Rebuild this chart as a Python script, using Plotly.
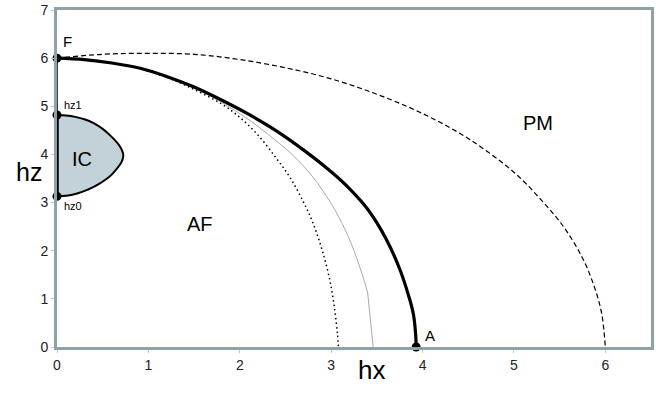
import plotly.graph_objects as go

# Boundary curves (hx, hz)
thick_x = [0, 0.3, 0.6, 0.91, 1.2, 1.5, 1.8, 2.1, 2.4, 2.7, 3.0, 3.2, 3.4, 3.6, 3.75, 3.85, 3.90, 3.925, 3.93]
thick_y = [6.0, 5.97, 5.90, 5.79, 5.62, 5.40, 5.13, 4.83, 4.49, 4.09, 3.64, 3.29, 2.86, 2.25, 1.62, 1.05, 0.68, 0.25, 0.0]

gray_x = [0, 0.3, 0.6, 0.91, 1.2, 1.5, 1.8, 2.1, 2.4, 2.6, 2.8, 3.0, 3.15, 3.25, 3.35, 3.40, 3.46]
gray_y = [6.0, 5.97, 5.90, 5.79, 5.62, 5.39, 5.08, 4.72, 4.28, 3.95, 3.53, 2.98, 2.45, 2.0, 1.45, 1.12, 0.0]

dot_x = [0, 0.3, 0.6, 0.91, 1.2, 1.5, 1.8, 2.0, 2.2, 2.4, 2.55, 2.7, 2.8, 2.9, 2.99, 3.04, 3.07, 3.08]
dot_y = [6.0, 5.97, 5.90, 5.78, 5.60, 5.35, 5.05, 4.77, 4.40, 3.92, 3.52, 3.00, 2.58, 2.02, 1.35, 0.75, 0.25, 0.0]

dash_x = [0, 0.5, 1.0, 1.5, 2.0, 2.5, 3.0, 3.5, 4.0, 4.5, 5.0, 5.3, 5.55, 5.75, 5.88, 5.96, 6.0]
dash_y = [6.0, 6.08, 6.10, 6.08, 5.97, 5.80, 5.57, 5.25, 4.85, 4.33, 3.63, 3.05, 2.48, 1.85, 1.25, 0.7, 0.0]

ic_x = [0, 0.1, 0.2, 0.3, 0.4, 0.5, 0.59, 0.66, 0.70, 0.72, 0.725, 0.715, 0.69, 0.64, 0.57, 0.47, 0.35, 0.22, 0.1, 0]
ic_y = [4.82, 4.81, 4.78, 4.73, 4.65, 4.53, 4.38, 4.24, 4.13, 4.04, 3.97, 3.88, 3.79, 3.67, 3.53, 3.40, 3.28, 3.19, 3.14, 3.13]

pt_x = [0, 0, 0, 3.93]
pt_y = [6.0, 4.82, 3.13, 0.0]

xticks = [0, 1, 2, 3, 4, 5, 6]
yticks = [0, 1, 2, 3, 4, 5, 6, 7]

FONT = "Liberation Sans, Arial, sans-serif"

fig = go.Figure()
fig.add_trace(go.Scatter(x=ic_x, y=ic_y, fill="toself", fillcolor="#c3d1d9",
                         mode="lines", line=dict(color="black", width=2),
                         line_shape="spline", cliponaxis=False))
fig.add_trace(go.Scatter(x=dash_x, y=dash_y, mode="lines", line_shape="spline",
                         line=dict(color="black", width=1.2, dash="5px,3px")))
fig.add_trace(go.Scatter(x=dot_x, y=dot_y, mode="lines", line_shape="spline",
                         line=dict(color="black", width=1.5, dash="1.5px,3px")))
k = gray_x.index(3.40)
fig.add_trace(go.Scatter(x=gray_x[:k + 1], y=gray_y[:k + 1], mode="lines",
                         line_shape="spline", line=dict(color="#aaaaaa", width=1)))
fig.add_trace(go.Scatter(x=gray_x[k:], y=gray_y[k:], mode="lines",
                         line=dict(color="#aaaaaa", width=1)))
fig.add_trace(go.Scatter(x=thick_x, y=thick_y, mode="lines", line_shape="spline",
                         line=dict(color="black", width=3.2), cliponaxis=False))
fig.add_trace(go.Scatter(x=[pt_x[1], pt_x[0]], y=[pt_y[1], pt_y[0]], mode="lines",
                         line=dict(color="black", width=1.5), cliponaxis=False))
fig.add_trace(go.Scatter(x=[pt_x[2], pt_x[1]], y=[pt_y[2], pt_y[1]], mode="lines",
                         line=dict(color="black", width=3.5), cliponaxis=False))
fig.add_trace(go.Scatter(x=pt_x, y=pt_y, mode="markers",
                         marker=dict(color="black", size=9), cliponaxis=False))

ann = [
    dict(x=0.11, y=6.34, text="F", size=15),
    dict(x=0.17, y=5.03, text="hz1", size=11),
    dict(x=0.17, y=2.93, text="hz0", size=11),
    dict(x=0.27, y=3.91, text="IC", size=20),
    dict(x=1.57, y=2.55, text="AF", size=20),
    dict(x=5.26, y=4.65, text="PM", size=20),
    dict(x=4.08, y=0.23, text="A", size=15),
]
for a in ann:
    fig.add_annotation(x=a["x"], y=a["y"], text=a["text"], showarrow=False,
                       font=dict(family=FONT, size=a["size"], color="black"))
fig.add_annotation(xref="paper", yref="paper", x=0.529, y=-0.119, text="hx",
                   showarrow=False, font=dict(family=FONT, size=26, color="black"))
fig.add_annotation(xref="paper", yref="paper", x=-0.073, y=0.519, text="hz",
                   showarrow=False, font=dict(family=FONT, size=25, color="black"))

axis_common = dict(showline=True, mirror=True, linecolor="#8fa2a7", linewidth=3,
                   showgrid=False, zeroline=False, ticks="outside", ticklen=3,
                   tickcolor="#c8c8c8", tickwidth=1, automargin=False,
                   tickfont=dict(family=FONT, size=14, color="#222222"))
fig.update_xaxes(range=[0, 6.5], tickvals=xticks, ticktext=[str(v) for v in xticks],
                 **axis_common)
fig.update_yaxes(range=[0, 7], tickvals=yticks, ticktext=[str(v) for v in yticks],
                 **axis_common)
fig.update_layout(width=656, height=404,
                  margin=dict(l=57, r=5, t=10, b=57, autoexpand=False),
                  plot_bgcolor="white", paper_bgcolor="white", showlegend=False)

fig.write_html("out.html", config={"displayModeBar": False},
               post_script="document.body.style.margin='0';document.body.style.padding='0';")
